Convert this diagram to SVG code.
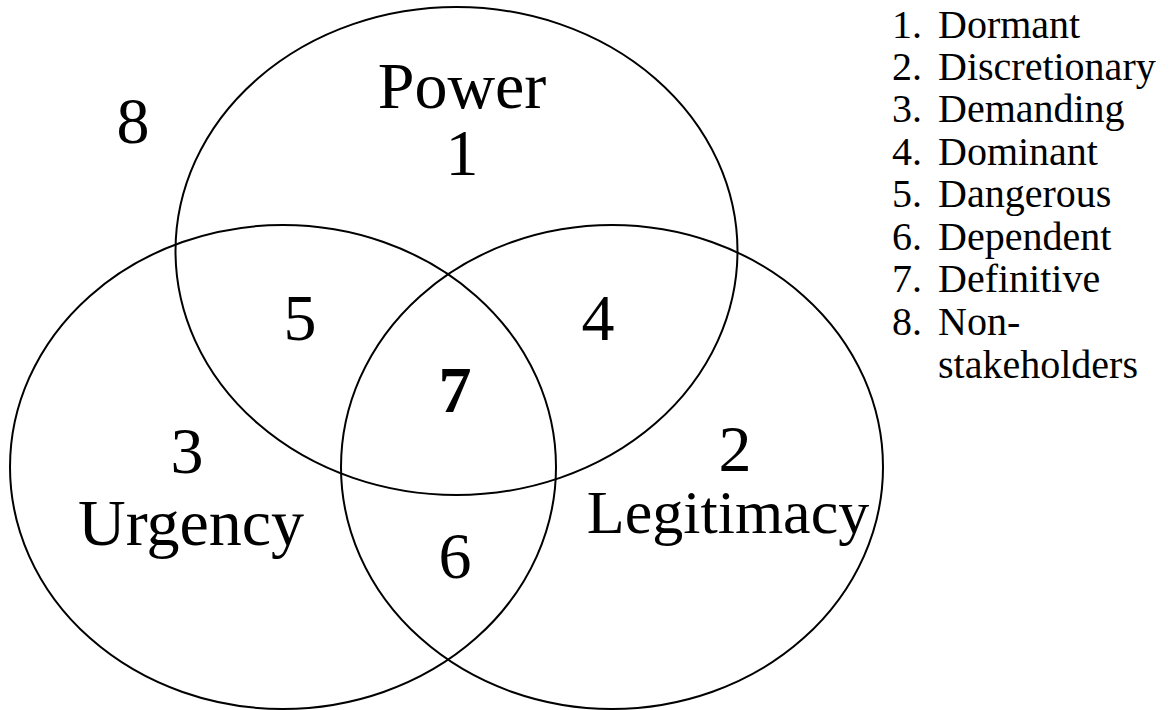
<svg xmlns="http://www.w3.org/2000/svg" width="1169" height="710" viewBox="0 0 1169 710">
<style>
.c{fill:none;stroke:#000;stroke-width:2}
.t{font-family:"Liberation Serif","Times New Roman",serif;fill:#000}
.big{font-size:66px;text-anchor:middle}
.leg{font-size:40px}
</style>
<rect width="1169" height="710" fill="#fff"/>
<g id="power"><ellipse class="c" cx="456.5" cy="251" rx="281" ry="244"/></g>
<g id="urgency"><ellipse class="c" cx="283" cy="467" rx="273" ry="242"/></g>
<g id="legitimacy"><ellipse class="c" cx="612" cy="467" rx="271" ry="242"/></g>
<g id="labels" class="t big">
<text x="462" y="108">Power</text>
<text x="462" y="175">1</text>
<text x="133" y="143">8</text>
<text x="300" y="340">5</text>
<text x="598" y="340">4</text>
<text x="455" y="412" font-weight="bold">7</text>
<text x="187" y="473">3</text>
<text x="191" y="545">Urgency</text>
<text x="735" y="471">2</text>
<text x="728" y="533" font-size="62">Legitimacy</text>
<text x="455" y="578">6</text>
</g>
<g id="legend" class="t leg">
<text x="892" y="38">1.</text><text x="938" y="38">Dormant</text>
<text x="892" y="80">2.</text><text x="938" y="80">Discretionary</text>
<text x="892" y="122">3.</text><text x="938" y="122">Demanding</text>
<text x="892" y="165">4.</text><text x="938" y="165">Dominant</text>
<text x="892" y="207">5.</text><text x="938" y="207">Dangerous</text>
<text x="892" y="250">6.</text><text x="938" y="250">Dependent</text>
<text x="892" y="292">7.</text><text x="938" y="292">Definitive</text>
<text x="892" y="335">8.</text><text x="938" y="335">Non-</text>
<text x="938" y="378">stakeholders</text>
</g>
</svg>
